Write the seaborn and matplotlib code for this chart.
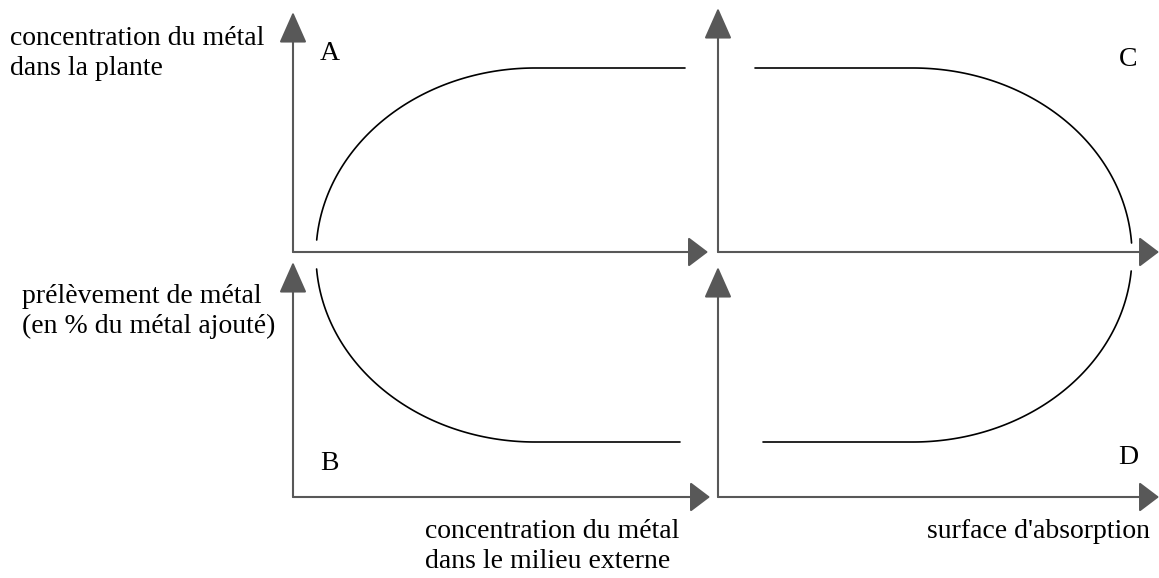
import numpy as np
import pandas as pd
import matplotlib.pyplot as plt
import seaborn as sns

sns.set_style('white')
plt.rcParams['font.family'] = ['Liberation Serif', 'DejaVu Serif']

W, H = 1159, 578

# Panneaux : origine (px), bout de l'axe x, bout de l'axe y
panneaux = ['A', 'B', 'C', 'D']
origine_x = [293, 293, 718, 718]
origine_y = [252, 497, 252, 497]
bout_x = [708, 710, 1159, 1159]
bout_y = [12, 262, 8, 267]

# Courbes (unités = px depuis l'origine de chaque panneau)
palier = [184, 55, 184, 55]          # niveau du plateau
debut_plat = [242, 187, 37, 45]      # x début du plateau
fin_plat = [392, 387, 195, 195]      # x fin du plateau
centre_arc_x = [242, 242, 195, 195]
centre_arc_y = [-3, 242, -3, 242]
limite_arc_y = [12, 228, 9, 226]     # extrémité de l'arc près de l'axe
rayon_x = 219
rayon_y = 187
cote_arc = ['gauche', 'gauche', 'droite', 'droite']

# Textes
etiquettes_axes = [
    ('concentration du métal\ndans la plante', 10, 26),
    ('prélèvement de métal\n(en % du métal ajouté)', 22, 284),
    ('concentration du métal\ndans le milieu externe', 425, 519),
    ("surface d'absorption", 927, 519),
]
lettres_pos = [(330, 54), (329, 463), (1128, 60), (1128, 458)]


def arc_points(cx, cy, y_lim, y_palier, cote):
    t0 = np.arcsin(np.clip((y_lim - cy) / rayon_y, -1, 1))
    t1 = np.arcsin(np.clip((y_palier - cy) / rayon_y, -1, 1))
    t = np.linspace(t0, t1, 120)
    sgn = -1 if cote == 'gauche' else 1
    return cx + sgn * rayon_x * np.cos(t), cy + rayon_y * np.sin(t)


fig = plt.figure(figsize=(W / 100, H / 100), dpi=100)

for i, nom in enumerate(panneaux):
    w = bout_x[i] - origine_x[i]
    h = origine_y[i] - bout_y[i]
    ax = fig.add_axes([origine_x[i] / W, (H - origine_y[i]) / H, w / W, h / H])
    ax.set_xlim(0, w)
    ax.set_ylim(0, h)
    ax.set_axis_off()

    # axes avec flèches
    ax.annotate('', xy=(w, 0), xytext=(0, 0), annotation_clip=False,
                arrowprops=dict(arrowstyle='-|>,head_length=0.62,head_width=0.47',
                                color='#585858', lw=1.5, shrinkA=0, shrinkB=0,
                                mutation_scale=20))
    ax.annotate('', xy=(0, h), xytext=(0, 0), annotation_clip=False,
                arrowprops=dict(arrowstyle='-|>,head_length=0.97,head_width=0.43',
                                color='#585858', lw=1.5, shrinkA=0, shrinkB=0,
                                mutation_scale=20))

    ax_, ay_ = arc_points(centre_arc_x[i], centre_arc_y[i], limite_arc_y[i], palier[i], cote_arc[i])
    if cote_arc[i] == 'gauche':
        xs = np.concatenate([ax_, [fin_plat[i]]])
        ys = np.concatenate([ay_, [palier[i]]])
    else:
        xs = np.concatenate([[debut_plat[i]], ax_[::-1]])
        ys = np.concatenate([[palier[i]], ay_[::-1]])
    courbe = pd.DataFrame({'x': xs, 'y': ys})
    sns.lineplot(data=courbe, x='x', y='y', sort=False, estimator=None,
                 color='black', lw=1.2, ax=ax)
    for l in ax.lines:
        l.set_clip_on(False)

for texte, x, y in etiquettes_axes:
    fig.text(x / W, 1 - y / H, texte, ha='left', va='top', fontsize=20,
             linespacing=1.25, color='black')

for nom, (x, y) in zip(panneaux, lettres_pos):
    fig.text(x / W, 1 - y / H, nom, ha='center', va='center', fontsize=20, color='black')

fig.savefig('out.png', dpi=100)
